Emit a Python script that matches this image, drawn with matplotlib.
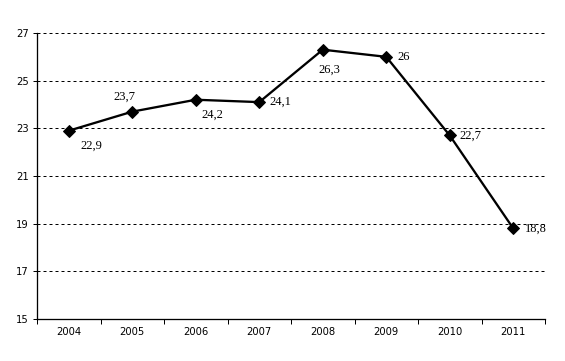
import matplotlib
matplotlib.use("Agg")
import matplotlib.pyplot as plt

# Data
years = ["2004", "2005", "2006", "2007", "2008", "2009", "2010", "2011"]
values = [22.9, 23.7, 24.2, 24.1, 26.3, 26.0, 22.7, 18.8]
labels = ["22,9", "23,7", "24,2", "24,1", "26,3", "26", "22,7", "18,8"]
y_ticks = [15, 17, 19, 21, 23, 25, 27]

# label offsets in pixels (dpi=72 -> points == pixels)
offsets = [(23, -15), (-8, 15), (17, -15), (21, 0), (7, -20), (17, 0), (21, 0), (23, 0)]

fig = plt.figure(figsize=(565 / 72, 361 / 72), dpi=72)
ax = fig.add_axes([37 / 565, 42 / 361, 508 / 565, 286 / 361])

x = list(range(len(years)))
ax.plot(x, values, color="black", lw=2.3, marker="D", ms=8, zorder=3)

for xi, v, lab, off in zip(x, values, labels, offsets):
    ax.annotate(lab, (xi, v), xytext=off, textcoords="offset points",
                ha="center", va="center", fontsize=12.5,
                family="Liberation Serif")

ax.set_xlim(-0.5, len(years) - 0.5)
ax.set_ylim(15, 27)
ax.set_yticks(y_ticks)
ax.set_yticklabels([str(t) for t in y_ticks], fontsize=10, family="DejaVu Sans")
ax.set_xticks([i - 0.5 for i in range(len(years) + 1)])
ax.set_xticklabels([])
ax.set_xticks(x, minor=True)
ax.set_xticklabels(years, minor=True, fontsize=10, family="DejaVu Sans")
ax.tick_params(axis="x", which="minor", length=0, pad=8)
ax.tick_params(axis="x", which="major", length=5, width=1)
ax.tick_params(axis="y", length=4, width=1, pad=4)

for t in y_ticks[1:]:
    ax.axhline(t, color="black", lw=1, ls=(0, (3, 3)), zorder=1)

ax.spines["top"].set_visible(False)
ax.spines["right"].set_visible(False)
for s in ("left", "bottom"):
    ax.spines[s].set_linewidth(1.3)

fig.savefig("out.png", dpi=72)
